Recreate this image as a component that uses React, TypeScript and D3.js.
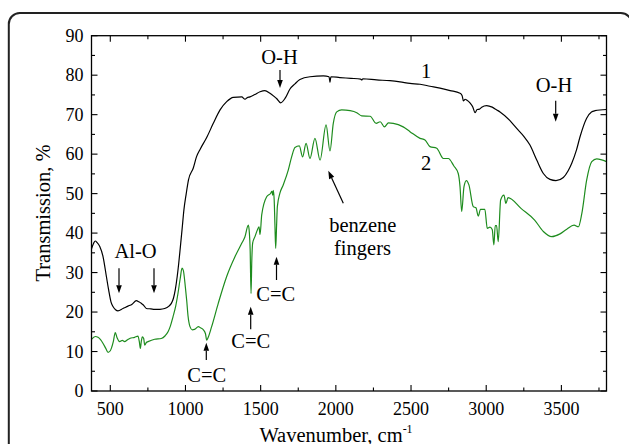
import React from "react";
import * as d3 from "d3";

const series1Wavenumber = [375,390,400,412,430,452,474,489,505,518,535,551,584,618,645,673,690,706,720,740,770,795,830,862,890,906,920,932,945,955,966,977,990,1005,1020,1052,1073,1097,1141,1185,1230,1274,1318,1374,1396,1410,1429,1461,1496,1528,1562,1590,1606,1633,1662,1695,1728,1761,1828,1917,1955,1961,1967,2027,2100,2165,2172,2180,2271,2360,2427,2493,2560,2626,2693,2760,2826,2840,2848,2860,2870,2892,2910,2926,2940,2955,2970,3003,3040,3070,3092,3158,3203,3250,3291,3336,3380,3424,3464,3513,3545,3569,3600,3624,3668,3700,3724,3800];
const series1Transmission = [36.0,37.5,38.0,37.6,36.6,34.0,29.0,25.6,22.5,21.4,20.6,20.3,20.9,21.5,22.0,22.9,22.6,22.2,21.8,20.9,20.8,20.7,20.7,20.9,21.5,22.2,23.5,25.6,29.0,32.3,36.5,40.8,46.0,50.0,53.5,56.5,59.3,61.2,64.2,67.8,71.2,73.3,74.4,74.5,73.9,74.3,74.5,75.1,75.8,76.1,75.4,74.6,74.1,73.0,74.1,76.5,77.8,78.9,79.6,79.8,79.6,78.2,79.6,79.4,79.2,79.0,78.8,79.1,78.8,78.6,78.3,77.9,77.7,77.2,76.7,76.1,75.4,74.8,73.5,73.9,73.7,73.0,72.0,70.5,71.3,71.4,71.9,72.3,71.9,71.2,70.7,68.5,66.5,64.5,62.3,58.5,55.1,53.6,53.3,54.1,55.8,57.7,61.0,64.4,69.1,70.7,71.0,71.3];

const series2Wavenumber = [375,400,418,435,451,470,485,500,507,520,533,545,562,580,595,615,629,662,684,693,700,706,713,722,729,740,751,795,839,865,884,900,917,935,950,965,977,986,999,1008,1017,1030,1045,1060,1086,1100,1119,1133,1141,1150,1174,1218,1274,1329,1374,1395,1418,1425,1430,1436,1441,1447,1462,1480,1489,1496,1507,1540,1567,1575,1580,1584,1590,1595,1600,1606,1611,1628,1650,1684,1706,1728,1757,1779,1802,1828,1861,1895,1935,1961,1983,2006,2039,2095,2139,2172,2228,2268,2295,2323,2350,2382,2448,2493,2560,2593,2626,2671,2715,2748,2785,2814,2826,2837,2852,2868,2885,2914,2932,2947,2962,2991,3007,3025,3040,3051,3060,3069,3080,3096,3118,3131,3145,3233,3322,3380,3436,3491,3536,3584,3613,3636,3668,3702,3735,3800];
const series2Transmission = [13.1,13.8,13.6,13.0,12.1,10.8,9.8,10.2,10.8,12.5,14.8,13.5,12.5,12.8,12.5,13.0,13.3,13.6,13.9,12.5,10.8,12.5,13.7,13.3,11.6,12.3,12.5,13.1,13.3,14.0,15.0,16.5,18.8,21.5,24.7,28.5,31.1,30.5,26.4,23.0,19.0,16.3,15.5,15.6,16.3,16.0,15.5,14.5,12.9,13.5,16.3,22.2,29.0,34.0,37.4,39.0,42.0,40.0,36.0,24.7,33.0,37.5,39.1,41.0,41.6,39.6,44.6,49.2,50.1,50.6,49.6,50.8,48.4,42.0,36.1,42.0,46.7,50.1,52.2,56.0,59.3,61.7,62.1,59.3,62.7,58.9,64.0,58.5,67.4,60.8,67.8,70.7,71.2,71.0,70.5,69.7,69.6,67.8,68.2,66.9,67.9,67.8,66.9,65.7,64.0,63.6,61.9,61.5,58.9,58.9,57.0,55.1,51.7,45.4,51.7,53.3,52.2,46.7,46.4,44.3,46.0,46.0,41.2,41.5,40.9,37.0,41.9,41.9,37.8,48.4,49.6,47.5,49.0,46.2,43.3,40.4,39.1,39.8,41.0,42.0,41.6,45.0,53.4,58.1,58.8,58.1];

const xTickValues = [500, 1000, 1500, 2000, 2500, 3000, 3500];
const xMinorTickValues = [750, 1250, 1750, 2250, 2750, 3250, 3750];
const yTickValues = [0, 10, 20, 30, 40, 50, 60, 70, 80, 90];
const yMinorTickValues = [5, 15, 25, 35, 45, 55, 65, 75, 85];

const W = 629;
const H = 444;
const left = 91.5, right = 606.5, top = 35.7, bottom = 391;
const TXT = { fontFamily: "Liberation Serif" };

function Arrow({ x1, y1, x2, y2 }: { x1: number; y1: number; x2: number; y2: number }) {
  const ang = Math.atan2(y2 - y1, x2 - x1);
  const len = 8, half = 2.8;
  const bx = x2 - len * Math.cos(ang), by = y2 - len * Math.sin(ang);
  const px = -Math.sin(ang) * half, py = Math.cos(ang) * half;
  return (
    <g>
      <line x1={x1} y1={y1} x2={bx} y2={by} stroke="#000" strokeWidth={1.2} />
      <polygon points={`${x2},${y2} ${bx + px},${by + py} ${bx - px},${by - py}`} fill="#000" />
    </g>
  );
}

export default function App() {
  const x = d3.scaleLinear().domain([375, 3800]).range([left, right]);
  const y = d3.scaleLinear().domain([0, 90]).range([bottom, top]);
  const line = d3.line<[number, number]>().x(d => x(d[0])).y(d => y(d[1])).curve(d3.curveMonotoneX);
  const d1 = line(series1Wavenumber.map((v, i) => [v, series1Transmission[i]] as [number, number])) || "";
  const d2 = line(series2Wavenumber.map((v, i) => [v, series2Transmission[i]] as [number, number])) || "";
  const major = 6, minor = 3.5;
  return (
    <svg width={W} height={H} style={{ position: "absolute", left: 0, top: 0, background: "#fff" }}>
      <rect x={8.8} y={13} width={623} height={470} rx={11} fill="none" stroke="#222" strokeWidth={2} />
      <defs>
        <clipPath id="plotclip"><rect x={left} y={top} width={right - left} height={bottom - top} /></clipPath>
      </defs>
      <g clipPath="url(#plotclip)">
        <path d={d1} fill="none" stroke="#000" strokeWidth={1.2} />
        <path d={d2} fill="none" stroke="#1e8c1e" strokeWidth={1.2} />
      </g>
      <rect x={left} y={top} width={right - left} height={bottom - top} fill="none" stroke="#000" strokeWidth={1.3} />
      {xTickValues.map(v => (
        <g key={"xt" + v}>
          <line x1={x(v)} x2={x(v)} y1={bottom} y2={bottom - major} stroke="#000" strokeWidth={1.1} />
          <line x1={x(v)} x2={x(v)} y1={top} y2={top + major} stroke="#000" strokeWidth={1.1} />
          <text x={x(v)} y={414.5} textAnchor="middle" fontSize={18} style={TXT}>{v}</text>
        </g>
      ))}
      {xMinorTickValues.map(v => (
        <g key={"xm" + v}>
          <line x1={x(v)} x2={x(v)} y1={bottom} y2={bottom - minor} stroke="#000" strokeWidth={1.1} />
          <line x1={x(v)} x2={x(v)} y1={top} y2={top + minor} stroke="#000" strokeWidth={1.1} />
        </g>
      ))}
      {yTickValues.map(v => (
        <g key={"yt" + v}>
          <line x1={left} x2={left + major} y1={y(v)} y2={y(v)} stroke="#000" strokeWidth={1.1} />
          <line x1={right} x2={right - major} y1={y(v)} y2={y(v)} stroke="#000" strokeWidth={1.1} />
          <text x={83.5} y={y(v) + 6} textAnchor="end" fontSize={18} style={TXT}>{v}</text>
        </g>
      ))}
      {yMinorTickValues.map(v => (
        <g key={"ym" + v}>
          <line x1={left} x2={left + minor} y1={y(v)} y2={y(v)} stroke="#000" strokeWidth={1.1} />
          <line x1={right} x2={right - minor} y1={y(v)} y2={y(v)} stroke="#000" strokeWidth={1.1} />
        </g>
      ))}
      <text transform="translate(50,213) rotate(-90)" textAnchor="middle" fontSize={20.5} style={TXT}>Transmission, %</text>
      <text x={336} y={441.5} textAnchor="middle" fontSize={20.5} style={TXT}>
        Wavenumber, cm<tspan fontSize={12} dy={-9}>-1</tspan>
      </text>

      <text x={279.5} y={63.5} textAnchor="middle" fontSize={20.5} style={TXT}>O-H</text>
      <Arrow x1={280} y1={70} x2={280} y2={88} />
      <text x={426} y={78} textAnchor="middle" fontSize={20.5} style={TXT}>1</text>
      <text x={426} y={170} textAnchor="middle" fontSize={20.5} style={TXT}>2</text>
      <text x={554} y={91.5} textAnchor="middle" fontSize={20.5} style={TXT}>O-H</text>
      <Arrow x1={555.7} y1={100.7} x2={555.7} y2={121.7} />
      <text x={135.5} y={258.3} textAnchor="middle" fontSize={20.5} style={TXT}>Al-O</text>
      <Arrow x1={119} y1={268.3} x2={119} y2={293.3} />
      <Arrow x1={154} y1={268.3} x2={154} y2={293.3} />
      <text x={206.7} y={381.7} textAnchor="middle" fontSize={20.5} style={TXT}>C=C</text>
      <Arrow x1={206.3} y1={360} x2={206.3} y2={342.7} />
      <text x={250.8} y={348.3} textAnchor="middle" fontSize={20.5} style={TXT}>C=C</text>
      <Arrow x1={250.7} y1={329.3} x2={250.7} y2={306.7} />
      <text x={275.8} y={300.7} textAnchor="middle" fontSize={20.5} style={TXT}>C=C</text>
      <Arrow x1={276.5} y1={280} x2={276.5} y2={256.7} />
      <text x={362.8} y={232} textAnchor="middle" fontSize={20.5} style={TXT}>benzene</text>
      <text x={362.5} y={255} textAnchor="middle" fontSize={20.5} style={TXT}>fingers</text>
      <Arrow x1={343.3} y1={203.3} x2={328.3} y2={170.7} />
    </svg>
  );
}
